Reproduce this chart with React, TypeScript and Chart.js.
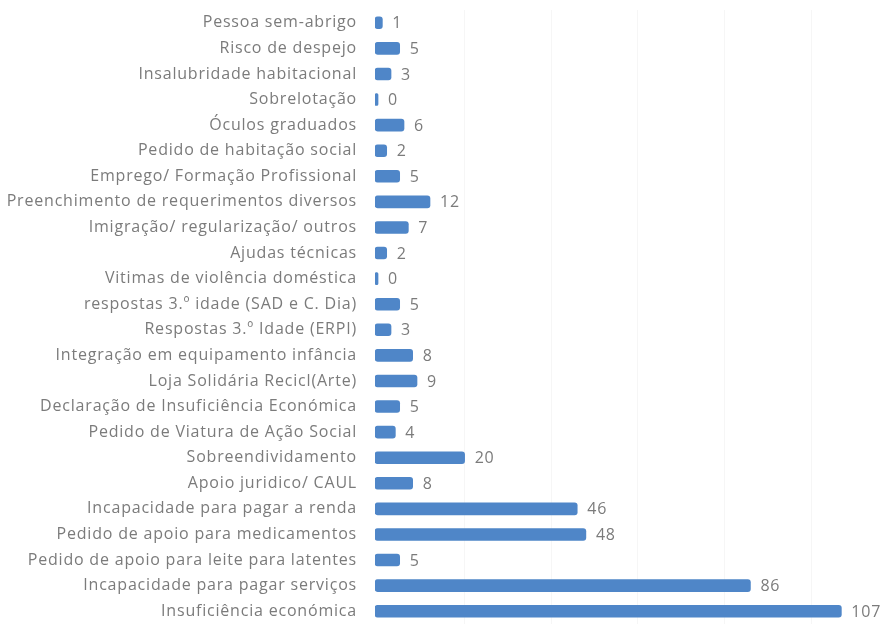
import React, { useEffect, useRef } from "react";
import { Chart, registerables } from "chart.js";

Chart.register(...registerables);

const categories: string[] = [
  "Pessoa sem-abrigo",
  "Risco de despejo",
  "Insalubridade habitacional",
  "Sobrelotação",
  "Óculos graduados",
  "Pedido de habitação social",
  "Emprego/ Formação Profissional",
  "Preenchimento de requerimentos diversos",
  "Imigração/ regularização/ outros",
  "Ajudas técnicas",
  "Vitimas de violência doméstica",
  "respostas 3.º idade (SAD e C. Dia)",
  "Respostas 3.º Idade (ERPI)",
  "Integração em equipamento infância",
  "Loja Solidária Recicl(Arte)",
  "Declaração de Insuficiência Económica",
  "Pedido de Viatura de Ação Social",
  "Sobreendividamento",
  "Apoio juridico/ CAUL",
  "Incapacidade para pagar a renda",
  "Pedido de apoio para medicamentos",
  "Pedido de apoio para leite para latentes",
  "Incapacidade para pagar serviços",
  "Insuficiência económica",
];

const values: number[] = [1, 5, 3, 0, 6, 2, 5, 12, 7, 2, 0, 5, 3, 8, 9, 5, 4, 20, 8, 46, 48, 5, 86, 107];

const gridValues: number[] = [20, 40, 60, 80, 100];

const FONT = "'Open Sans', sans-serif";
const TEXT_COLOR = "#7b7b7b";
const BAR_COLOR = "#4f86c8";
const SPACING = "0.8px";

const spacingPlugin = {
  id: "spacing",
  beforeDraw(chart: any) {
    (chart.ctx as any).letterSpacing = SPACING;
  },
  beforeUpdate(chart: any) {
    (chart.ctx as any).letterSpacing = SPACING;
  },
};

const valueLabels = {
  id: "valueLabels",
  afterDatasetsDraw(chart: any) {
    const ctx = chart.ctx;
    const meta = chart.getDatasetMeta(0);
    ctx.save();
    ctx.font = `16px ${FONT}`;
    ctx.fillStyle = TEXT_COLOR;
    ctx.textAlign = "left";
    ctx.textBaseline = "middle";
    meta.data.forEach((el: any, i: number) => {
      const x = Math.max(el.x, el.base + 3);
      ctx.fillText(String(values[i]), x + 10, el.y + 1);
    });
    ctx.restore();
  },
};

export default function App() {
  const canvasRef = useRef<HTMLCanvasElement | null>(null);

  useEffect(() => {
    document.body.style.margin = "0";
    const canvas = canvasRef.current;
    if (!canvas) return;
    const chart = new Chart(canvas, {
      type: "bar",
      data: {
        labels: categories,
        datasets: [
          {
            data: values,
            backgroundColor: BAR_COLOR,
            borderRadius: 3,
            borderSkipped: false,
            barThickness: 12,
            minBarLength: 3,
            base: -0.7,
          } as any,
        ],
      },
      options: {
        indexAxis: "y",
        responsive: false,
        animation: false,
        maintainAspectRatio: false,
        layout: { padding: { left: 0, right: 6, top: 10, bottom: 0 } },
        plugins: {
          legend: { display: false },
          tooltip: { enabled: false },
        },
        scales: {
          x: {
            min: -0.7,
            max: 115,
            grid: { color: "#f6f6f6", drawTicks: false },
            border: { display: false },
            ticks: { display: false },
            afterBuildTicks: (scale: any) => {
              scale.ticks = gridValues.map((v) => ({ value: v }));
            },
            afterFit: (scale: any) => {
              scale.height = 0;
              scale.paddingLeft = 0;
              scale.paddingRight = 0;
            },
          },
          y: {
            grid: { display: false, drawTicks: false },
            border: { display: false },
            ticks: {
              autoSkip: false,
              padding: 18,
              color: TEXT_COLOR,
              font: { family: FONT, size: 16 },
            },
            afterFit: (scale: any) => {
              scale.width = 375;
              scale.paddingTop = 0;
              scale.paddingBottom = 0;
            },
          },
        },
      },
      plugins: [spacingPlugin, valueLabels],
    });
    return () => chart.destroy();
  }, []);

  return (
    <div style={{ width: 882, height: 624 }}>
      <canvas ref={canvasRef} width={882} height={624} style={{ display: "block" }} />
    </div>
  );
}
